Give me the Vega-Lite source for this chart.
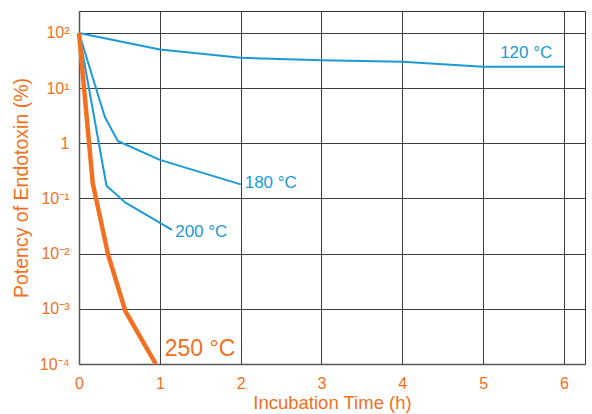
{
  "$schema": "https://vega.github.io/schema/vega-lite/v6.json",
  "width": 506,
  "height": 353,
  "autosize": "none",
  "padding": {"left": 79, "top": 11, "right": 7, "bottom": 50},
  "background": "white",
  "title": {"text": "(Heat Resisting Test)", "anchor": "middle", "baseline": "alphabetic", "offset": 11, "fontSize": 17, "font": "Liberation Sans", "fontWeight": "normal", "color": "#333333"},
  "config": {
    "view": {"stroke": "#333333", "strokeWidth": 1},
    "font": "Liberation Sans"
  },
  "datasets": {
    "curves": [
      {"t": 0, "p": 100, "s": "120 °C"},
      {"t": 1, "p": 50, "s": "120 °C"},
      {"t": 2, "p": 35.5, "s": "120 °C"},
      {"t": 3, "p": 32, "s": "120 °C"},
      {"t": 4, "p": 30, "s": "120 °C"},
      {"t": 5, "p": 24.5, "s": "120 °C"},
      {"t": 6, "p": 24.5, "s": "120 °C"},
      {"t": 0, "p": 100, "s": "180 °C"},
      {"t": 0.32, "p": 3.0, "s": "180 °C"},
      {"t": 0.48, "p": 1.1, "s": "180 °C"},
      {"t": 1, "p": 0.5, "s": "180 °C"},
      {"t": 2, "p": 0.18, "s": "180 °C"},
      {"t": 0, "p": 100, "s": "200 °C"},
      {"t": 0.34, "p": 0.17, "s": "200 °C"},
      {"t": 0.57, "p": 0.085, "s": "200 °C"},
      {"t": 1.15, "p": 0.027, "s": "200 °C"},
      {"t": 0, "p": 100, "s": "250 °C"},
      {"t": 0.17, "p": 0.19, "s": "250 °C"},
      {"t": 0.36, "p": 0.0096, "s": "250 °C"},
      {"t": 0.575, "p": 0.0009, "s": "250 °C"},
      {"t": 0.95, "p": 0.0001, "s": "250 °C"}
    ],
    "labels": [
      {"t": 5.21, "p": 43, "label": "120 °C", "s": "blue"},
      {"t": 2.05, "p": 0.19, "label": "180 °C", "s": "blue"},
      {"t": 1.19, "p": 0.025, "label": "200 °C", "s": "blue"},
      {"t": 1.06, "p": 0.00019, "label": "250 °C", "s": "orange"}
    ]
  },
  "encoding": {
    "x": {
      "field": "t", "type": "quantitative",
      "scale": {"domain": [0, 6.26], "nice": false, "zero": false},
      "axis": {
        "title": "Incubation Time (h)", "values": [0, 1, 2, 3, 4, 5, 6],
        "grid": true, "gridColor": "#3d3d3d", "gridWidth": 1, "gridOpacity": 1,
        "ticks": false, "domainColor": "#555555", "domainWidth": 1.5, "labelFlush": false,
        "labelColor": "#f37021", "labelFontSize": 16, "labelPadding": 11, "labelFont": "Liberation Sans",
        "titleColor": "#f37021", "titleFontSize": 18.5, "titleFontWeight": "normal", "titlePadding": 2, "titleFont": "Liberation Sans"
      }
    },
    "y": {
      "field": "p", "type": "quantitative",
      "scale": {"type": "log", "domain": [0.0001, 250], "nice": false},
      "axis": {
        "title": "Potency of Endotoxin (%)", "values": [0.0001, 0.001, 0.01, 0.1, 1, 10, 100],
        "labelExpr": "datum.value >= 99 ? '10²' : datum.value >= 9 ? '10¹' : datum.value >= 0.9 ? '1' : datum.value >= 0.09 ? '10⁻¹' : datum.value >= 0.009 ? '10⁻²' : datum.value >= 0.0009 ? '10⁻³' : '10⁻⁴'",
        "grid": true, "gridColor": "#3d3d3d", "gridWidth": 1, "gridOpacity": 1,
        "ticks": false, "domainColor": "#555555", "domainWidth": 1.5, "labelFlush": false,
        "labelColor": "#f37021", "labelFontSize": 16, "labelPadding": 10, "labelFont": "Liberation Sans",
        "titleColor": "#f37021", "titleFontSize": 19.5, "titleFontWeight": "normal", "titlePadding": 8, "titleFont": "Liberation Sans"
      }
    }
  },
  "layer": [
    {
      "data": {"name": "curves"},
      "transform": [{"filter": "datum.s != '250 °C'"}],
      "mark": {"type": "line", "color": "#1a9ad7", "strokeWidth": 2, "strokeJoin": "round"},
      "encoding": {"detail": {"field": "s", "type": "nominal"}}
    },
    {
      "data": {"name": "curves"},
      "transform": [{"filter": "datum.s == '250 °C'"}],
      "mark": {"type": "line", "color": "#f37021", "strokeWidth": 4.5, "strokeJoin": "round"},
      "encoding": {"detail": {"field": "s", "type": "nominal"}}
    },
    {
      "data": {"name": "labels"},
      "transform": [{"filter": "datum.s == 'blue'"}],
      "mark": {"type": "text", "align": "left", "baseline": "middle", "color": "#1a9ad7", "fontSize": 17, "font": "Liberation Sans"},
      "encoding": {"text": {"field": "label", "type": "nominal"}}
    },
    {
      "data": {"name": "labels"},
      "transform": [{"filter": "datum.s == 'orange'"}],
      "mark": {"type": "text", "align": "left", "baseline": "middle", "color": "#f37021", "fontSize": 23, "font": "Liberation Sans"},
      "encoding": {"text": {"field": "label", "type": "nominal"}}
    }
  ]
}
